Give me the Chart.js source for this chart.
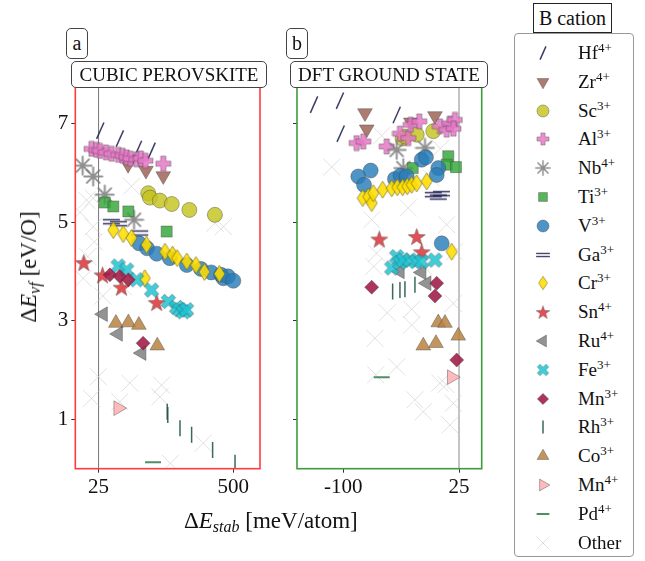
<!DOCTYPE html>
<html>
<head>
<meta charset="utf-8">
<script src="https://cdn.jsdelivr.net/npm/chart.js@4.4.1/dist/chart.umd.min.js"></script>
<style>
  body { margin: 0; background: #fff; font-family: "Liberation Serif", serif; color: #111; }
  #wrap { position: relative; width: 645px; height: 561px; overflow: hidden; font-family: "Liberation Serif", serif; }
  #wrap canvas.plot { position: absolute; top: 0; }
  .tag { position: absolute; background: #fff; border: 1px solid #444; border-radius: 5px; font-family: "Liberation Serif", serif;
         box-sizing: border-box; text-align: center; font-size: 19px; white-space: nowrap; }
  .axlab { position: absolute; font-size: 23px; white-space: nowrap; font-family: "Liberation Serif", serif; }
  .axlab sub { font-size: 16px; font-style: italic; vertical-align: -4px; }
  #legTitle { position: absolute; left: 533px; top: 3px; width: 79px; height: 30px; box-sizing: border-box; font-family: "Liberation Serif", serif;
              border: 1px solid #222; background: #fff; font-size: 20px; line-height: 28px; text-align: center; }
  #legBox { position: absolute; left: 514px; top: 33px; width: 120px; height: 524px; box-sizing: border-box;
            border: 1px solid #999; border-radius: 4px; background: #fff; }
  .legRow { position: absolute; left: 0; height: 28px; width: 118px; }
  .legRow canvas { position: absolute; left: 15px; top: 1px; }
  .legRow span { position: absolute; left: 63px; top: 1px; font-size: 19px; line-height: 26px; font-family: "Liberation Serif", serif; }
  .legRow sup { font-size: 13px; vertical-align: 7px; line-height: 0; }
</style>
</head>
<body>
<div id="wrap">
  <canvas id="chartA" class="plot" width="270" height="561" style="left:0px"></canvas>
  <canvas id="chartB" class="plot" width="210" height="561" style="left:280px"></canvas>

  <div class="tag" style="left:66px;top:28px;width:22px;height:31px;line-height:29px;font-size:20px;">a</div>
  <div class="tag" style="left:71px;top:61px;width:196px;height:27px;line-height:25px;">CUBIC PEROVSKITE</div>
  <div class="tag" style="left:286px;top:28px;width:22px;height:31px;line-height:29px;font-size:20px;">b</div>
  <div class="tag" style="left:290px;top:61px;width:198px;height:27px;line-height:25px;">DFT GROUND STATE</div>

  <div class="axlab" style="left:184px;top:508px;">Δ<i>E</i><sub>stab</sub> [meV/atom]</div>
  <div class="axlab" style="left:30px;top:267px;transform:translate(-50%,-50%) rotate(-90deg);">Δ<i>E</i><sub>vf</sub> [eV/O]</div>

  <div id="legTitle">B cation</div>
  <div id="legBox"></div>
</div>
<script>
// legend labels
const cations = ['Hf', 'Zr', 'Sc', 'Al', 'Nb', 'Ti', 'V', 'Ga', 'Cr', 'Sn', 'Ru', 'Fe', 'Mn', 'Rh', 'Co', 'Mn', 'Pd', 'Other'];
const charges = ['4+', '4+', '3+', '3+', '4+', '3+', '3+', '3+', '3+', '4+', '4+', '3+', '3+', '3+', '3+', '4+', '4+', ''];

// axis ticks
const yTicks = [1, 3, 5, 7];
const xTicksA = [25, 500];
const xTicksB = [-100, 25];

// panel a : cubic perovskite  [dE_stab, dE_vf]
const hfA = [[31, 6.86], [100, 6.70], [164, 6.49], [212, 6.45]];
const zrA = [[129, 6.17], [192, 6.05], [253, 5.94]];
const scA = [[200, 5.59], [206, 5.50], [241, 5.44], [283, 5.37], [345, 5.25], [435, 5.15]];
const alA = [[0, 6.49], [18, 6.47], [30, 6.45], [51, 6.42], [71, 6.39], [94, 6.37], [110, 6.35], [124, 6.32],
             [138, 6.29], [159, 6.28], [174, 6.30], [190, 6.25], [253, 6.19]];
const nbA = [[-31, 6.15], [6, 5.93], [47, 5.56], [150, 5.05]];
const tiA = [[47, 5.40], [77, 5.32], [130, 5.22], [265, 4.81]];
const vA = [[168, 4.57], [196, 4.47], [230, 4.36], [276, 4.27], [336, 4.13], [386, 4.05], [422, 3.98],
            [457, 3.93], [465, 3.86], [481, 3.90], [500, 3.81]];
const gaA = [[70, 5.01], [95, 4.97], [170, 4.78]];
const crA = [[77, 4.84], [112, 4.76], [141, 4.68], [194, 4.54], [259, 4.40], [286, 4.34], [302, 4.27],
             [336, 4.20], [368, 4.13], [398, 3.99], [451, 3.95], [188, 3.86]];
const snA = [[-27, 4.18], [39, 3.93], [106, 3.68], [230, 3.37]];
const ruA = [[41, 3.13], [94, 2.73], [177, 2.34]];
const feA = [[94, 4.11], [124, 4.03], [159, 3.83], [212, 3.62], [271, 3.39], [300, 3.27], [312, 3.22],
             [324, 3.18], [335, 3.22]];
const mn3A = [[65, 3.93], [100, 3.90], [130, 3.83], [182, 2.54]];
const rhA = [[267, 1.15], [269, 1.08], [312, 0.81], [353, 0.68], [427, 0.37], [506, 0.11]];
const coA = [[86, 2.95], [130, 2.96], [167, 2.91], [232, 2.49]];
const mn4A = [[94, 1.22]];
const pdA = [[217, 0.12]];
const otherA = [[141, 5.73], [-17, 5.45], [6, 5.49], [6, 4.91], [435, 4.98], [465, 4.91], [-13, 4.30],
                [-29, 3.86], [24, 1.86], [0, 1.42], [135, 1.73], [100, 1.35], [247, 1.69], [241, 1.45],
                [394, 0.51], [278, 0.10], [112, 3.69], [-40, 5.20], [10, 4.60], [40, 3.50]];

// panel b : DFT ground state
const hfB = [[-131.6, 7.39], [-103.6, 7.47], [-102.8, 6.80], [-42.3, 7.18]];
const zrB = [[-76.6, 7.22], [-74.7, 6.89], [-1, 7.16], [-27, 7.03]];
const scB = [[-36, 6.70], [-33.4, 6.74], [-20.7, 6.78], [-2.8, 6.85]];
const alB = [[-85.6, 6.61], [-78.4, 6.64], [-53.1, 6.54], [-38.8, 6.80], [-29.8, 6.71], [-27.2, 6.98],
             [-17.9, 7.05], [4.4, 6.95], [11.7, 6.88], [15.2, 7.01], [20.6, 7.08], [19, 6.90]];
const nbB = [[-42.3, 6.47], [-11.8, 6.51], [-35.2, 6.10]];
const tiB = [[13.4, 6.34], [11.7, 6.17], [21.7, 6.12], [-25, 6.10]];
const vB = [[-83.8, 5.93], [-70.4, 6.05], [-77.6, 5.76], [-44.2, 5.88], [-38, 5.95], [-31.5, 5.93],
            [-15.3, 6.27], [-10.7, 6.32], [2.6, 6.10], [0.9, 5.96], [6.3, 4.57]];
const gaB = [[-2.8, 5.56], [2.6, 5.51], [6, 5.58]];
const crB = [[-79, 5.49], [-73, 5.52], [-69.3, 5.39], [-67.6, 5.59], [-57.5, 5.66], [-47.7, 5.69],
             [-41.7, 5.71], [-35.9, 5.71], [-30.9, 5.73], [-26.1, 5.76], [-20.7, 5.79], [-9.9, 5.83], [17.1, 4.40]];
const snB = [[-61.1, 4.66], [-20.7, 4.71], [-15.3, 4.40]];
const ruB = [[-38.8, 4.00], [-15.3, 3.98], [-9.9, 3.76]];
const feB = [[-47.7, 4.07], [-42.3, 4.30], [-39, 4.18], [-35.2, 4.23], [-28, 4.23], [-21.5, 4.20],
             [-15.3, 4.20], [-1, 4.23]];
const mn3B = [[-69.3, 3.68], [0.9, 3.76], [-1, 3.50], [22.5, 2.20]];
const rhB = [[-46.7, 3.59], [-38.8, 3.62], [-33.4, 3.64], [-22.6, 3.73]];
const coB = [[2.6, 2.96], [9.8, 2.95], [24.2, 2.69], [-13.6, 2.49], [0.1, 2.54]];
const mn4B = [[17.1, 1.85]];
const pdB = [[-58.5, 1.85]];
const otherB = [[-112.5, 6.12], [-58.5, 6.76], [-29.8, 5.29], [-69.3, 5.05], [11.7, 4.95], [-64, 4.37],
                [-67, 4.10], [-13, 4.10], [20, 4.40], [-52.5, 3.16], [-26.1, 3.23], [-65.8, 2.64],
                [-26.1, 2.91], [-42.3, 2.06], [-65, 1.90], [4.4, 1.73], [11, 1.70], [-22.6, 1.39],
                [-13.6, 1.15], [18.8, 1.32], [15.2, 0.88], [18.8, 3.35], [5, 6.50], [-5, 5.90]];

const cubicData = [hfA, zrA, scA, alA, nbA, tiA, vA, gaA, crA, snA, ruA, feA, mn3A, rhA, coA, mn4A, pdA, otherA];
const groundData = [hfB, zrB, scB, alB, nbB, tiB, vB, gaB, crB, snB, ruB, feB, mn3B, rhB, coB, mn4B, pdB, otherB];

// ---- custom marker images (filled plus, X, star, asterisk, "=", thin diamond)
function marker(w, h, draw) {
  const c = document.createElement('canvas');
  c.width = w; c.height = h;
  draw(c.getContext('2d'), w / 2, h / 2);
  return c;
}
const edge = 'rgba(70,70,70,0.6)';
function plusPath(ctx, cx, cy, r, t, rot) {
  ctx.save();
  ctx.translate(cx, cy); ctx.rotate(rot);
  ctx.beginPath();
  ctx.moveTo(-t, -r); ctx.lineTo(t, -r); ctx.lineTo(t, -t); ctx.lineTo(r, -t); ctx.lineTo(r, t);
  ctx.lineTo(t, t); ctx.lineTo(t, r); ctx.lineTo(-t, r); ctx.lineTo(-t, t); ctx.lineTo(-r, t);
  ctx.lineTo(-r, -t); ctx.lineTo(-t, -t); ctx.closePath();
  ctx.restore();
}
const plusImg = marker(17, 17, (ctx, cx, cy) => {
  plusPath(ctx, cx, cy, 7.5, 2.6, 0);
  ctx.fillStyle = 'rgba(232,120,200,0.85)'; ctx.fill();
  ctx.strokeStyle = edge; ctx.lineWidth = 0.7; ctx.stroke();
});
const xImg = marker(17, 17, (ctx, cx, cy) => {
  plusPath(ctx, cx, cy, 7.8, 2.5, Math.PI / 4);
  ctx.fillStyle = 'rgba(30,195,210,0.85)'; ctx.fill();
  ctx.strokeStyle = edge; ctx.lineWidth = 0.7; ctx.stroke();
});
const starImg = marker(19, 19, (ctx, cx, cy) => {
  ctx.beginPath();
  for (let k = 0; k < 10; k++) {
    const r = k % 2 ? 3.6 : 9;
    const a = -Math.PI / 2 + k * Math.PI / 5;
    ctx.lineTo(cx + r * Math.cos(a), cy + 1 + r * Math.sin(a));
  }
  ctx.closePath();
  ctx.fillStyle = 'rgba(220,50,55,0.85)'; ctx.fill();
  ctx.strokeStyle = edge; ctx.lineWidth = 0.7; ctx.stroke();
});
const asterImg = marker(21, 21, (ctx, cx, cy) => {
  ctx.strokeStyle = 'rgba(125,125,125,0.85)'; ctx.lineWidth = 2; ctx.lineCap = 'round';
  ctx.beginPath();
  for (let k = 0; k < 4; k++) {
    const a = k * Math.PI / 4;
    ctx.moveTo(cx - 9 * Math.cos(a), cy - 9 * Math.sin(a));
    ctx.lineTo(cx + 9 * Math.cos(a), cy + 9 * Math.sin(a));
  }
  ctx.stroke();
});
const eqImg = marker(19, 9, (ctx, cx, cy) => {
  ctx.strokeStyle = 'rgba(30,30,80,0.9)'; ctx.lineWidth = 1.4;
  ctx.beginPath();
  ctx.moveTo(1, cy - 2); ctx.lineTo(18, cy - 2);
  ctx.moveTo(1, cy + 2); ctx.lineTo(18, cy + 2);
  ctx.stroke();
});
const diamImg = marker(13, 19, (ctx, cx, cy) => {
  ctx.beginPath();
  ctx.moveTo(cx, 1); ctx.lineTo(cx + 5.5, cy); ctx.lineTo(cx, 18); ctx.lineTo(cx - 5.5, cy); ctx.closePath();
  ctx.fillStyle = 'rgba(255,222,0,0.88)'; ctx.fill();
  ctx.strokeStyle = 'rgba(90,80,20,0.7)'; ctx.lineWidth = 0.8; ctx.stroke();
});

// marker style for each cation, same order as cations
const markerStyles = [
  { pointStyle: 'line', rotation: -66, radius: 9, backgroundColor: 'rgba(40,40,90,0.9)', borderColor: 'rgba(40,40,90,0.9)', borderWidth: 1.5 },
  { pointStyle: 'triangle', rotation: 180, radius: 8.5, backgroundColor: 'rgba(160,100,88,0.85)', borderColor: edge, borderWidth: 0.7 },
  { pointStyle: 'circle', rotation: 0, radius: 7.5, backgroundColor: 'rgba(195,195,30,0.82)', borderColor: edge, borderWidth: 0.7 },
  { pointStyle: plusImg, rotation: 0, radius: 8 },
  { pointStyle: asterImg, rotation: 0, radius: 9 },
  { pointStyle: 'rect', rotation: 0, radius: 7.8, backgroundColor: 'rgba(50,165,55,0.82)', borderColor: edge, borderWidth: 0.7 },
  { pointStyle: 'circle', rotation: 0, radius: 7.5, backgroundColor: 'rgba(40,125,185,0.82)', borderColor: edge, borderWidth: 0.7 },
  { pointStyle: eqImg, rotation: 0, radius: 9 },
  { pointStyle: diamImg, rotation: 0, radius: 9 },
  { pointStyle: starImg, rotation: 0, radius: 9 },
  { pointStyle: 'triangle', rotation: -90, radius: 8.5, backgroundColor: 'rgba(128,128,128,0.85)', borderColor: edge, borderWidth: 0.7 },
  { pointStyle: xImg, rotation: 0, radius: 8 },
  { pointStyle: 'rectRot', rotation: 0, radius: 7, backgroundColor: 'rgba(160,25,70,0.88)', borderColor: edge, borderWidth: 0.7 },
  { pointStyle: 'line', rotation: 90, radius: 8, backgroundColor: 'rgba(35,90,65,0.9)', borderColor: 'rgba(35,90,65,0.9)', borderWidth: 1.5 },
  { pointStyle: 'triangle', rotation: 0, radius: 8.5, backgroundColor: 'rgba(185,130,65,0.85)', borderColor: edge, borderWidth: 0.7 },
  { pointStyle: 'triangle', rotation: 90, radius: 8.5, backgroundColor: 'rgba(255,180,185,0.92)', borderColor: edge, borderWidth: 0.7 },
  { pointStyle: 'line', rotation: 0, radius: 8, backgroundColor: 'rgba(60,130,85,0.9)', borderColor: 'rgba(60,130,85,0.9)', borderWidth: 2 },
  { pointStyle: 'crossRot', rotation: 0, radius: 12, backgroundColor: 'rgba(200,200,200,0.55)', borderColor: 'rgba(200,200,200,0.55)', borderWidth: 1 }
];

function buildDatasets(panel) {
  return cations.map((c, i) => {
    const s = markerStyles[i];
    return {
      label: c + charges[i],
      data: panel[i].map(p => ({ x: p[0], y: p[1] })),
      pointStyle: s.pointStyle,
      rotation: s.rotation,
      pointRadius: s.radius,
      pointHoverRadius: s.radius,
      backgroundColor: s.backgroundColor || 'rgba(0,0,0,0)',
      borderColor: s.borderColor || 'rgba(0,0,0,0)',
      borderWidth: s.borderWidth || 0,
      // later cations drawn on top, "Other" at the back
      order: i === cations.length - 1 ? 100 : cations.length - i
    };
  });
}

// frame round the plot area and the vertical line at 25 meV/atom
const framePlugin = {
  id: 'frame',
  beforeDatasetsDraw(chart, args, opts) {
    const { ctx, chartArea: a, scales } = chart;
    const px = scales.x.getPixelForValue(25);
    ctx.save();
    ctx.strokeStyle = opts.refColor; ctx.lineWidth = opts.refWidth;
    ctx.beginPath(); ctx.moveTo(px, a.top); ctx.lineTo(px, a.bottom); ctx.stroke();
    ctx.restore();
  },
  afterDatasetsDraw(chart, args, opts) {
    const { ctx, chartArea: a } = chart;
    ctx.save();
    ctx.strokeStyle = opts.color; ctx.lineWidth = 1.6;
    ctx.strokeRect(a.left, a.top, a.right - a.left, a.bottom - a.top);
    ctx.restore();
  }
};

// fixed axis sizes so the plot areas land where the panels are
function fixSize(s, w, h) {
  if (w !== null) s.width = w;
  if (h !== null) s.height = h;
  s.paddingLeft = 0; s.paddingRight = 0; s.paddingTop = 0; s.paddingBottom = 0;
}

function makeChart(id, panel, opt) {
  return new Chart(document.getElementById(id), {
    type: 'scatter',
    data: { datasets: buildDatasets(panel) },
    plugins: [framePlugin],
    options: {
      responsive: false,
      animation: false,
      events: [],
      layout: { autoPadding: false, padding: { top: 82, right: opt.padRight, bottom: 52.3, left: 0 } },
      scales: {
        x: {
          type: 'linear', min: opt.xMin, max: opt.xMax,
          afterBuildTicks: s => { s.ticks = opt.xTicks.map(v => ({ value: v })); },
          afterFit: s => fixSize(s, null, 40),
          border: { display: false },
          grid: { display: true, drawOnChartArea: false, drawTicks: true, tickLength: 4, color: '#333' },
          ticks: { color: '#111', padding: 2, font: { family: 'Liberation Serif', size: 21 }, maxRotation: 0,
                   callback: v => String(v) }
        },
        y: {
          type: 'linear', min: -0.01, max: 7.85,
          afterBuildTicks: s => { s.ticks = yTicks.map(v => ({ value: v })); },
          afterFit: s => fixSize(s, opt.yWidth, null),
          border: { display: false },
          grid: { display: true, drawOnChartArea: false, drawTicks: true, tickLength: 4, color: '#333' },
          ticks: { color: '#111', padding: 3, font: { family: 'Liberation Serif', size: 21 },
                   callback: v => opt.yLabels ? String(v) : '' }
        }
      },
      plugins: {
        legend: { display: false },
        tooltip: { enabled: false },
        frame: { color: opt.frameColor, refColor: opt.refColor, refWidth: opt.refWidth }
      }
    }
  });
}

const chartA = makeChart('chartA', cubicData, {
  xMin: -57, xMax: 594, xTicks: xTicksA, yWidth: 75.3, padRight: 10, yLabels: true,
  frameColor: '#ff3b3b', refColor: '#777', refWidth: 1
});
const chartB = makeChart('chartB', groundData, {
  xMin: -150, xMax: 49.5, xTicks: xTicksB, yWidth: 17, padRight: 8.3, yLabels: false,
  frameColor: '#3c9c3c', refColor: '#c4c4c4', refWidth: 2
});

// legend (html text, markers drawn with the chart.js point helper)
const legBox = document.getElementById('legBox');
cations.forEach((c, i) => {
  const row = document.createElement('div');
  row.className = 'legRow';
  row.style.top = (5 + i * 28.8) + 'px';
  const cv = document.createElement('canvas');
  cv.width = 26; cv.height = 26;
  const ctx = cv.getContext('2d');
  const s = markerStyles[i];
  ctx.fillStyle = s.backgroundColor || 'rgba(0,0,0,0)';
  ctx.strokeStyle = s.borderColor || 'rgba(0,0,0,0)';
  ctx.lineWidth = s.borderWidth || 0;
  const r = i === 3 || i === 11 ? 6.5 : (i === 17 ? 9 : s.radius * 0.8);
  if (typeof s.pointStyle === 'string') {
    Chart.helpers.drawPoint(ctx, { pointStyle: s.pointStyle, rotation: s.rotation, radius: r, borderWidth: s.borderWidth }, 13, 13);
  } else {
    const w = s.pointStyle.width * 0.8, h = s.pointStyle.height * 0.8;
    ctx.drawImage(s.pointStyle, 13 - w / 2, 13 - h / 2, w, h);
  }
  row.appendChild(cv);
  const sp = document.createElement('span');
  sp.innerHTML = charges[i] ? c + '<sup>' + charges[i] + '</sup>' : c;
  row.appendChild(sp);
  legBox.appendChild(row);
});
</script>
</body>
</html>
